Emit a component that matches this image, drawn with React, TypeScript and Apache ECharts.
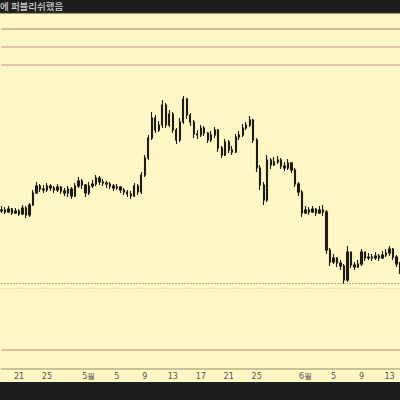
import React, { useEffect, useRef } from "react";
import * as echarts from "echarts";

// 12-hour bars starting 2024-04-18 12:00
const firstOpen = 258;
const closes = [
  259, 257, 260, 256, 258, 255, 261, 254, 264, 276,
  283, 280, 279, 283, 281, 279, 282, 278, 276, 280,
  273, 283, 288, 284, 276, 283, 285, 291, 287, 286,
  285, 283, 281, 282, 279, 277, 275, 273, 283, 277,
  294, 311, 331, 351, 339, 344, 364, 344, 355, 339,
  329, 347, 370, 354, 347, 335, 334, 341, 336, 329,
  334, 339, 321, 314, 327, 319, 317, 332, 334, 341,
  344, 349, 329, 301, 284, 269, 309, 304, 307, 309,
  303, 301, 306, 299, 285, 277, 256, 259, 257, 260,
  256, 259, 257, 219, 207, 211, 206, 203, 189, 217,
  204, 202, 205, 217, 211, 212, 211, 213, 211, 214,
  216, 220, 212, 205, 198,
];
const highs = [
  263, 262, 263, 261, 261, 260, 264, 263, 266, 279,
  287, 285, 284, 286, 285, 283, 285, 283, 281, 283,
  282, 286, 292, 290, 285, 287, 289, 294, 293, 290,
  288, 287, 285, 285, 283, 281, 279, 278, 286, 285,
  297, 314, 334, 357, 354, 348, 369, 366, 359, 357,
  341, 351, 373, 371, 356, 349, 339, 344, 343, 337,
  338, 342, 340, 323, 330, 329, 323, 335, 338, 345,
  347, 353, 350, 331, 304, 287, 314, 311, 312, 313,
  311, 307, 310, 307, 301, 287, 279, 263, 262, 263,
  261, 263, 264, 259, 221, 215, 212, 209, 205, 223,
  217, 207, 209, 220, 216, 216, 215, 217, 215, 218,
  220, 223, 221, 214, 207,
];
const lows = [
  256, 255, 256, 254, 255, 253, 254, 251, 252, 263,
  275, 277, 276, 277, 278, 276, 277, 275, 273, 272,
  270, 272, 281, 280, 272, 274, 281, 283, 284, 283,
  281, 280, 278, 279, 276, 274, 272, 270, 272, 274,
  275, 292, 309, 329, 336, 337, 341, 341, 342, 336,
  325, 327, 345, 350, 343, 331, 330, 332, 333, 326,
  327, 331, 317, 311, 313, 316, 314, 316, 329, 332,
  339, 342, 326, 297, 279, 264, 267, 300, 303, 305,
  300, 298, 299, 296, 282, 273, 252, 255, 254, 256,
  253, 255, 253, 215, 203, 205, 202, 199, 185, 187,
  201, 199, 201, 203, 208, 209, 208, 209, 208, 210,
  212, 213, 209, 202, 195,
];

const tickDays = ["04-21", "04-25", "05-01", "05-05", "05-09", "05-13", "05-17", "05-21", "05-25", "06-01", "06-05", "06-09", "06-13"];
const tickLabels = ["21", "25", "5월", "5", "9", "13", "17", "21", "25", "6월", "5", "9", "13"];

const resistanceLevels = [440, 422, 404];
const supportDotted = [185.5, 181];
const bottomLevel = 119;

const headerText = "에 퍼블리쉬했음";

function pad(n: number) {
  return n < 10 ? "0" + n : "" + n;
}

export default function App() {
  const ref = useRef<HTMLDivElement>(null);
  useEffect(() => {
    if (!ref.current) return;
    const chart = echarts.init(ref.current, undefined, { renderer: "svg" });
    const start = Date.UTC(2024, 3, 18, 12);
    const cats: string[] = closes.map((_, i) => {
      const d = new Date(start + i * 12 * 3600 * 1000);
      return pad(d.getUTCMonth() + 1) + "-" + pad(d.getUTCDate()) + " " + pad(d.getUTCHours());
    });
    const data = closes.map((c, i) => [i === 0 ? firstOpen : closes[i - 1], c, lows[i], highs[i]]);
    const labelFor = (v: string) => {
      if (!v.endsWith(" 00")) return "";
      const k = tickDays.indexOf(v.slice(0, 5));
      return k >= 0 ? tickLabels[k] : "";
    };
    chart.setOption({
      animation: false,
      backgroundColor: "#1e1e1e",
      graphic: [
        { type: "rect", z: -10, shape: { x: 0, y: 13, width: 400, height: 369 }, style: { fill: "#fef6c4" } },
        { type: "line", z: -9, shape: { x1: 0, y1: 13, x2: 400, y2: 13 }, style: { stroke: "#3a3a2a", lineWidth: 1 } },
        {
          type: "text",
          left: 0,
          top: 1,
          style: { text: headerText, fill: "#cfcfcf", fontSize: 9.5, fontFamily: "Noto Sans CJK KR", fontWeight: 500 },
        },
      ],
      grid: { left: 1.5, right: 0, top: 13, bottom: 31 },
      xAxis: {
        type: "category",
        data: cats,
        boundaryGap: false,
        axisLine: { show: true, lineStyle: { color: "#bab184", width: 1.5 } },
        axisTick: { show: false },
        splitLine: { show: false },
        axisLabel: {
          interval: (_i: number, v: string) => labelFor(v) !== "",
          formatter: (v: string) => labelFor(v),
          fontSize: 8,
          color: "#555",
          margin: 3,
          fontFamily: "DejaVu Sans",
        },
      },
      yAxis: {
        type: "value",
        min: 100,
        max: 456,
        show: false,
        splitLine: { show: false },
      },
      series: [
        {
          type: "candlestick",
          data,
          barWidth: 1.8,
          itemStyle: { color: "#1c1c18", color0: "#1c1c18", borderColor: "#1c1c18", borderColor0: "#1c1c18", borderWidth: 1.1 },
          markLine: {
            silent: true,
            symbol: "none",
            label: { show: false },
            data: [
              { yAxis: resistanceLevels[0], lineStyle: { color: "#bfa88c", width: 1.5, type: "solid" } },
              { yAxis: resistanceLevels[1], lineStyle: { color: "#d8b49c", width: 1.5, type: "solid" } },
              { yAxis: resistanceLevels[2], lineStyle: { color: "#d8b49c", width: 1.5, type: "solid" } },
              { yAxis: supportDotted[0], lineStyle: { color: "#6e6c50", width: 1, type: [1, 2] } },
              { yAxis: supportDotted[1], lineStyle: { color: "#e0c278", width: 1, type: [1, 2] } },
              { yAxis: bottomLevel, lineStyle: { color: "#d4a88e", width: 1.5, type: "solid" } },
            ],
          },
        },
      ],
    });
    return () => chart.dispose();
  }, []);
  return <div ref={ref} style={{ position: "fixed", left: 0, top: 0, width: 400, height: 400 }} />;
}
